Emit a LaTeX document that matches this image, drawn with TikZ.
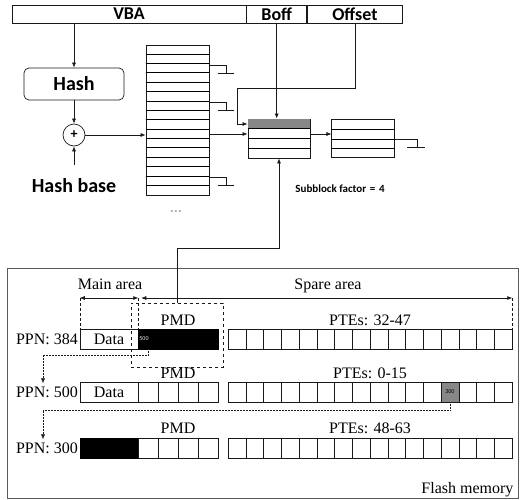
\documentclass[tikz,border=0pt]{standalone}
\usepackage{fontspec}
\setmainfont{Liberation Serif}
\newfontfamily\hdfont{Carlito}
\usetikzlibrary{arrows.meta,positioning,calc}
\definecolor{cLine}{RGB}{25,25,25}
\definecolor{cShade}{RGB}{135,135,135}
\definecolor{cFrame}{RGB}{90,90,90}
\tikzset{
  sansbf/.style={font=\hdfont\bfseries\fontsize{#1}{#1}\selectfont},
  serif/.style={font=\fontsize{16}{16}\selectfont},
  fieldbox/.style={rectangle,draw=cLine,line width=0.7pt,inner sep=0pt,
                   minimum height=18pt,sansbf=18},
  hashbox/.style={rectangle,rounded corners=5pt,draw=cLine,line width=0.7pt,
                  minimum width=100pt,minimum height=32pt,sansbf=20},
  addnode/.style={circle,draw=cLine,line width=0.7pt,minimum size=22pt,
                  inner sep=0pt,sansbf=14},
  tablebox/.style={rectangle,draw=cLine,line width=0.9pt,inner sep=0pt},
  datnode/.style={rectangle,draw=cLine,line width=0.5pt,inner sep=0pt,
                  minimum width=58pt,minimum height=20pt,serif},
  blknode/.style={rectangle,draw=black,fill=black,inner sep=0pt,
                  minimum height=20pt},
  cellnode/.style={rectangle,draw=cLine,line width=0.5pt,inner sep=0pt,
                   minimum width=17.75pt,minimum height=20pt},
  pmdcell/.style={cellnode,minimum width=20pt},
  pmdbox/.style={rectangle,draw=cLine,dashed,line width=0.5pt,
                 minimum width=92pt,minimum height=64pt},
  tinylbl/.style={inner sep=1pt,font=\hdfont\fontsize{6}{6}\selectfont},
  wire/.style={draw=cLine,line width=0.6pt},
  arr/.style={wire,-{Latex[length=5pt,width=4pt]}},
  dblarr/.style={wire,{Latex[length=5pt,width=4pt]}-{Latex[length=5pt,width=4pt]}},
  dotarr/.style={draw=cLine,line width=0.5pt,densely dotted,
                 -{Latex[length=5pt,width=4pt]}},
  guide/.style={draw=cLine,line width=0.5pt,densely dashed}
}

\begin{document}
\begin{tikzpicture}[x=1pt,y=-1pt]
  \useasboundingbox (0,0) rectangle (527,499);

  % Address fields
  \node[fieldbox,minimum width=234pt] (vba) at (129,14) {VBA};
  \node[fieldbox,minimum width=60pt,right=0pt of vba] (boff) {Boff};
  \node[fieldbox,minimum width=95pt,right=0pt of boff] (offs) {Offset};

  % Hashing
  \node[hashbox] (hash) at (74,84) {Hash};
  \node[addnode] (plus) at (74,135) {+};
  \node[sansbf=20] (hbase) at (74,186) {Hash base};
  \coordinate (hbtop) at (74,165);

  % Hash table (16 rows, 4 per bucket)
  \node[tablebox,minimum width=63pt,minimum height=150pt] (htab) at (177.5,120) {};
  \foreach \i in {1,...,15}
    \draw[line width=0.4pt] ($(htab.north west)+(0,\i*9.375)$) -- ($(htab.north east)+(0,\i*9.375)$);
  \foreach \i in {4,8,12}
    \draw[line width=0.9pt] ($(htab.north west)+(0,\i*9.375)$) -- ($(htab.north east)+(0,\i*9.375)$);
  \node[sansbf=12] (dots) at (176,212) {$\cdot\!\cdot\!\cdot$};

  % Selected bucket and next bucket
  \node[tablebox,minimum width=62pt,minimum height=39pt] (bucket) at (279,138.5) {};
  \fill[cShade] ($(bucket.north west)+(0.5,0.5)$) rectangle ($(bucket.north east)+(-0.5,10)$);
  \foreach \d in {10,20,29.5}
    \draw[line width=0.4pt] ($(bucket.north west)+(0,\d)$) -- ($(bucket.north east)+(0,\d)$);
  \node[tablebox,minimum width=63pt,minimum height=38pt,right=21pt of bucket] (nxt) {};
  \foreach \d in {10,20,29}
    \draw[line width=0.4pt] ($(nxt.north west)+(0,\d)$) -- ($(nxt.north east)+(0,\d)$);
  \node[sansbf=11] (sbf) at (340,189) {Subblock factor\,\,=\,\,4};

  \coordinate (oturn) at (237,88);
  \coordinate (bend) at (279,248);

  \draw[arr] (hash.north |- vba.south) -- (hash.north);
  \draw[arr] (hash.south) -- (plus.north);
  \draw[arr] (hbtop) -- (plus.south);
  \draw[arr] (plus.east) -- (plus.east -| htab.west);
  \draw[arr] (htab.east |- 0,134) -- (bucket.west |- 0,134);
  \draw[arr] (boff.south) -- (boff.south |- bucket.north);
  \draw[arr] (offs.south) |- (oturn) |- (bucket.west |- 0,124);
  \draw[arr] (bucket.east |- 0,134) -- (nxt.west |- 0,134);

  % chain ends
  \foreach \y in {65,102,177} {
    \draw[wire] (htab.east |- 0,\y) -| (226,\y+8);
    \draw[wire] (218,\y+8) -- (234,\y+8);
  }
  \draw[wire] (nxt.east |- 0,139) -| (417,147);
  \draw[wire] (407,147) -- (425,147);

  % Flash memory
  \node[draw=cFrame,line width=0.6pt,minimum width=511pt,minimum height=230pt] (flash) at (262.5,383) {};
  \node[serif,anchor=base east] (flbl) at (517,493) {Flash memory};

  \node[serif] (mainlbl) at (110,284) {Main area};
  \node[serif] (sparelbl) at (328,286) {Spare area};

  % page PPN 384
  \node[serif,anchor=east,inner sep=1pt] (ppn1) at (79,339) {PPN: 384};
  \node[datnode] (d1) at (109,339) {Data};
  \node[blknode,minimum width=80pt,right=0pt of d1] (m1) {};
  \node[tinylbl,anchor=west,text=white!85!gray] (v500) at (m1.west) {500};
  \foreach \i in {0,...,15}
    \node[cellnode] (p1-\i) at (236.875+\i*17.75,339) {};
  \node[serif] (pmd1) at (178,320) {PMD};
  \node[serif] (pte1) at (370,320) {PTEs: 32-47};
  \node[pmdbox] (pmdbox) at (177,335) {};

  % page PPN 500
  \node[serif,anchor=east,inner sep=1pt] (ppn2) at (79,392) {PPN: 500};
  \node[datnode] (d2) at (109,392) {Data};
  \foreach \i in {0,...,3}
    \node[pmdcell] (q2-\i) at (148+\i*20,392) {};
  \foreach \i in {0,...,15}
    \node[cellnode] (p2-\i) at (236.875+\i*17.75,392) {};
  \node[cellnode,fill=cShade,tinylbl,minimum width=17.75pt,minimum height=20pt,inner sep=0pt] at (p2-12) {300};
  \node[serif] (pmd2) at (178,373) {PMD};
  \node[serif] (pte2) at (370,373) {PTEs: 0-15};

  % page PPN 300
  \node[serif,anchor=east,inner sep=1pt] (ppn3) at (79,448) {PPN: 300};
  \node[blknode,minimum width=58pt] (d3) at (109,448) {};
  \foreach \i in {0,...,3}
    \node[pmdcell] (q3-\i) at (148+\i*20,448) {};
  \foreach \i in {0,...,15}
    \node[cellnode] (p3-\i) at (236.875+\i*17.75,448) {};
  \node[serif] (pmd3) at (178,428) {PMD};
  \node[serif] (pte3) at (370,428) {PTEs: 48-63};

  % area markers
  \coordinate (mL) at (d1.north west |- 0,298);
  \coordinate (mR) at (d1.north east |- 0,298);
  \coordinate (sL) at ($(mR)+(3,0)$);
  \coordinate (sR) at (p1-15.north east |- 0,298);
  \draw[dblarr] (mL) -- (mR);
  \draw[dblarr] (sL) -- (sR);
  \draw[guide] (mL) -- (d1.north west);
  \draw[guide] (mR) -- (d1.north east);
  \draw[guide] (sR) -- (p1-15.north east);

  % pointers
  \coordinate (ptr1) at ($(m1.south west)+(10,0)$);
  \coordinate (turn1) at (43,355);
  \coordinate (turn2) at (43,410);
  \draw[dotarr] (ptr1) |- (turn1) -- ($(turn1 |- ppn2.north)+(0,-2)$);
  \draw[dotarr] (p2-12.south) |- (turn2) -- ($(turn2 |- ppn3.north)+(0,-2)$);
  \draw[arr] (pmdbox.north) |- (bend) -- (bucket.south);

\end{tikzpicture}
\end{document}
